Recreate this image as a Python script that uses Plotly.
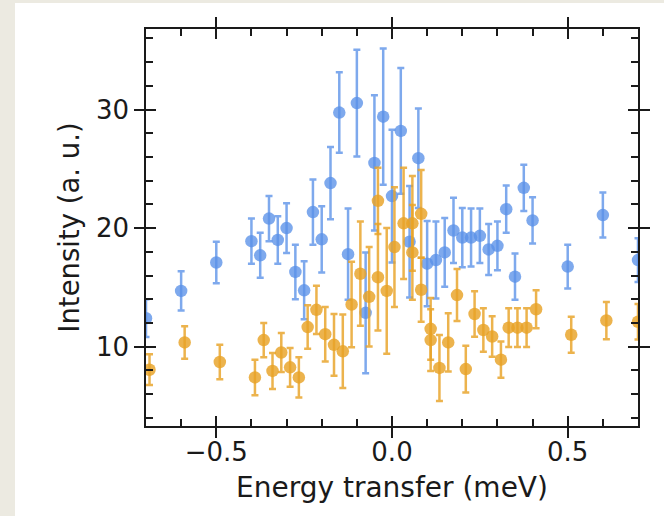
import plotly.graph_objects as go

# ---- measured spectra -------------------------------------------------
blue_x = [-0.70, -0.60, -0.50, -0.40, -0.375, -0.35, -0.325, -0.30, -0.275, -0.25,
          -0.225, -0.20, -0.175, -0.15, -0.125, -0.10, -0.075, -0.05, -0.025, 0.0,
          0.025, 0.05, 0.075, 0.10, 0.125, 0.15, 0.175, 0.20, 0.225, 0.25,
          0.275, 0.30, 0.325, 0.35, 0.375, 0.40, 0.50, 0.60, 0.70]
blue_y = [12.4, 14.7, 17.1, 18.9, 17.7, 20.8, 19.0, 20.0, 16.3, 14.75,
          21.35, 19.05, 23.8, 29.75, 17.8, 30.55, 12.85, 25.5, 29.4, 22.7,
          28.2, 18.85, 25.9, 17.0, 17.3, 17.95, 19.8, 19.2, 19.2, 19.35,
          18.2, 18.5, 21.6, 15.9, 23.4, 20.65, 16.75, 21.1, 17.3]
blue_err = [1.6, 1.65, 1.75, 1.9, 1.9, 1.9, 2.0, 2.1, 2.3, 2.45,
            2.75, 2.8, 3.05, 3.4, 3.85, 4.5, 5.1, 5.7, 5.75, 5.6,
            5.3, 4.7, 4.2, 3.6, 3.25, 2.9, 2.75, 2.5, 2.45, 2.3,
            2.15, 2.05, 2.0, 1.95, 1.95, 1.95, 1.85, 1.9, 1.85]

orange_x = [-0.69, -0.59, -0.49, -0.39, -0.365, -0.34, -0.315, -0.29, -0.265, -0.24,
            -0.215, -0.19, -0.165, -0.14, -0.115, -0.09, -0.065, -0.04, -0.04, -0.015,
            0.007, 0.033, 0.058, 0.058, 0.083, 0.083, 0.11, 0.11, 0.135, 0.16,
            0.185, 0.21, 0.235, 0.26, 0.285, 0.31, 0.332, 0.357, 0.383, 0.41,
            0.51, 0.61, 0.70]
orange_y = [8.05, 10.35, 8.7, 7.4, 10.55, 7.95, 9.5, 8.25, 7.4, 11.65,
            13.1, 11.05, 10.15, 9.6, 13.55, 16.15, 14.2, 15.85, 22.3, 14.7,
            18.4, 20.4, 20.4, 17.95, 21.2, 14.8, 11.5, 10.55, 8.2, 10.35,
            14.35, 8.1, 12.75, 11.4, 10.85, 8.9, 11.6, 11.6, 11.6, 13.15,
            11.0, 12.2, 12.1]
orange_err = [1.3, 1.37, 1.45, 1.5, 1.45, 1.52, 1.64, 1.64, 1.7, 1.83,
              2.04, 2.3, 2.6, 3.1, 3.6, 4.4, 4.2, 4.5, 2.8, 5.3,
              5.05, 4.7, 4.0, 4.0, 3.7, 2.7, 2.6, 2.6, 2.78, 2.46,
              2.2, 1.97, 1.92, 1.83, 1.71, 1.52, 1.64, 1.64, 1.64, 1.6,
              1.52, 1.57, 1.5]

x_tick_vals = [-0.5, 0.0, 0.5]
x_tick_text = ["\u22120.5", "0.0", "0.5"]
y_tick_vals = [10, 20, 30]
y_tick_text = ["10", "20", "30"]

x_range = [-0.7, 0.7]
y_range = [3.3, 36.8]

BLUE = "rgba(90,145,232,0.78)"
ORANGE = "rgba(232,162,38,0.82)"
INK = "#1a1a1a"
FONT = "DejaVu Sans"


def series(x, y, err, color):
    return go.Scatter(
        x=x, y=y, mode="markers",
        marker=dict(size=12.5, color=color, line=dict(width=0)),
        error_y=dict(type="data", array=err, visible=True,
                     color=color, thickness=2.5, width=3.5),
        showlegend=False, hoverinfo="skip",
    )


fig = go.Figure()
fig.add_trace(series(blue_x, blue_y, blue_err, BLUE))
fig.add_trace(series(orange_x, orange_y, orange_err, ORANGE))
# empty trace that brings the overlay (inner tick) axes into being
fig.add_trace(go.Scatter(x=[], y=[], xaxis="x2", yaxis="y2", mode="markers",
                         showlegend=False, hoverinfo="skip"))

# main axes: labelled, outer half of the major ticks on every side
common_main = dict(showline=True, linecolor=INK, linewidth=1.5, mirror="ticks",
                   ticks="outside", ticklen=10, tickwidth=2, tickcolor=INK,
                   showgrid=False, zeroline=False,
                   tickfont=dict(family=FONT, size=26, color=INK))
# overlay axes: inner half of the major ticks plus the minor ticks
common_inner = dict(showline=False, mirror="ticks", showticklabels=False,
                    ticks="inside", ticklen=10, tickwidth=2, tickcolor=INK,
                    showgrid=False, zeroline=False, fixedrange=True)

fig.update_layout(
    width=664, height=516,
    margin=dict(l=146, r=26, t=29, b=90),
    paper_bgcolor="#ECEAE1",
    plot_bgcolor="white",
    font=dict(family=FONT, color=INK),
    xaxis=dict(range=x_range, tickmode="array", tickvals=x_tick_vals, ticktext=x_tick_text,
               ticklabelstandoff=-8,
               title=dict(text="Energy transfer (meV)", font=dict(family=FONT, size=28, color=INK),
                          standoff=11),
               **common_main),
    yaxis=dict(range=y_range, tickmode="array", tickvals=y_tick_vals, ticktext=y_tick_text,
               title=dict(text="Intensity (a. u.)", font=dict(family=FONT, size=27.5, color=INK),
                          standoff=8),
               **common_main),
    xaxis2=dict(range=x_range, overlaying="x", anchor="y2", side="bottom",
                tickmode="linear", tick0=0, dtick=0.5,
                minor=dict(ticks="inside", ticklen=7, tickwidth=2, tickcolor=INK,
                           tickmode="linear", tick0=0, dtick=0.1, showgrid=False),
                **common_inner),
    yaxis2=dict(range=y_range, overlaying="y", anchor="x2", side="left",
                tickmode="linear", tick0=0, dtick=10,
                minor=dict(ticks="inside", ticklen=7, tickwidth=2, tickcolor=INK,
                           tickmode="linear", tick0=0, dtick=2, showgrid=False),
                **common_inner),
    shapes=[dict(type="rect", xref="paper", yref="paper", layer="below",
                 x0=-0.2663, x1=1.1, y0=-0.3, y1=1.0655,
                 fillcolor="white", line=dict(width=0))],
)

fig.write_html("out.html")
